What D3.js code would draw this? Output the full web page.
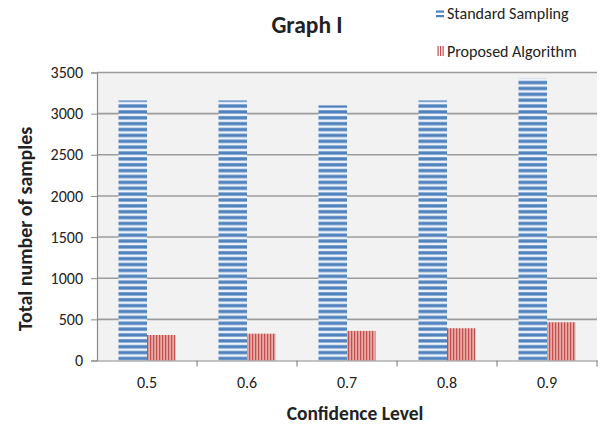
<!DOCTYPE html>
<html><head><meta charset="utf-8">
<script src="https://cdn.jsdelivr.net/npm/d3@7"></script>
<style>body{margin:0;background:#fff}svg{display:block}</style>
</head><body>
<svg id="chart" width="600" height="431"></svg>
<script>
const categories = ["0.5","0.6","0.7","0.8","0.9"];
const seriesNames = ["Standard Sampling","Proposed Algorithm"];
const standardSampling = [3160, 3160, 3100, 3160, 3425];
const proposedAlgorithm = [310, 326, 360, 392, 465];
const yTicks = [0,500,1000,1500,2000,2500,3000,3500];

const FONT = "Carlito, Lato, 'Open Sans', sans-serif";
const svg = d3.select("#chart");
const defs = svg.append("defs");
const pb = defs.append("pattern").attr("id","pBlue").attr("patternUnits","userSpaceOnUse")
  .attr("width",8).attr("height",5.87).attr("y",360.5);
pb.append("rect").attr("width",8).attr("height",5.87).attr("fill","#eef3fa");
pb.append("rect").attr("y",2.2).attr("width",8).attr("height",3.3).attr("fill","#4f81bd");
const pr = defs.append("pattern").attr("id","pRed").attr("patternUnits","userSpaceOnUse")
  .attr("width",3).attr("height",8);
pr.append("rect").attr("width",3).attr("height",8).attr("fill","#eaa8a6");
pr.append("rect").attr("x",0).attr("width",1.2).attr("height",8).attr("fill","#c0504d");

const L = 97, R = 597, T = 72.5, B = 360.5;
const x0 = d3.scaleBand().domain(categories).range([L,R]).padding(0);
const x1 = d3.scaleBand().domain(seriesNames).range([0,x0.bandwidth()]).paddingInner(0).paddingOuter(0.754);
const y = d3.scaleLinear().domain([0,3500]).range([B,T]);

svg.append("rect").attr("x",L).attr("y",T).attr("width",R-L).attr("height",B-T).attr("fill","#f2f2f2");

svg.append("g").selectAll("line").data(yTicks.filter(d=>d>0)).join("line")
  .attr("x1",L).attr("x2",R).attr("y1",d=>y(d)).attr("y2",d=>y(d))
  .attr("stroke","#9c9c9c").attr("stroke-width",1.6);

const data = categories.map((c,i)=>({c, vals:[standardSampling[i], proposedAlgorithm[i]]}));
const g = svg.append("g");
data.forEach(d=>{
  d.vals.forEach((v,j)=>{
    g.append("rect")
      .attr("x", x0(d.c)+x1(seriesNames[j]))
      .attr("y", y(v))
      .attr("width", x1.bandwidth())
      .attr("height", B - y(v))
      .attr("fill", j===0 ? "url(#pBlue)" : "url(#pRed)");
  });
});

const yAxis = d3.axisLeft(y).tickValues(yTicks).tickSize(6).tickPadding(8).tickFormat(d3.format("d"));
const ya = svg.append("g").attr("transform",`translate(${L},0)`).call(yAxis);
ya.select(".domain").attr("stroke","#8a8a8a").attr("stroke-width",1.2);
ya.selectAll(".tick line").attr("stroke","#8a8a8a");
ya.selectAll("text").attr("font-family",FONT).attr("font-size",16).attr("fill","#222");

const xAxis = d3.axisBottom(x0).tickSize(0).tickPadding(16);
const xa = svg.append("g").attr("transform",`translate(0,${B})`).call(xAxis);
xa.select(".domain").attr("stroke","#8a8a8a").attr("stroke-width",1.2);
xa.selectAll("text").attr("font-family",FONT).attr("font-size",16).attr("fill","#222");
xa.append("g").selectAll("line").data(categories).join("line")
  .attr("x1",(d,i)=>L+x0.step()*(i+1)).attr("x2",(d,i)=>L+x0.step()*(i+1))
  .attr("y1",0).attr("y2",6).attr("stroke","#8a8a8a").attr("stroke-width",1.2);

svg.append("text").attr("x",307).attr("y",32.5).attr("text-anchor","middle")
  .attr("font-family",FONT).attr("font-weight","bold").attr("font-size",23.5).attr("fill","#222").text("Graph I");

svg.append("text").attr("transform","translate(32,229) rotate(-90)").attr("text-anchor","middle")
  .attr("font-family",FONT).attr("font-weight","bold").attr("font-size",20).attr("fill","#222")
  .text("Total number of samples");
svg.append("text").attr("x",355).attr("y",420).attr("text-anchor","middle")
  .attr("font-family",FONT).attr("font-weight","bold").attr("font-size",19.5).attr("fill","#222")
  .text("Confidence Level");

const lg = svg.append("g");
lg.append("rect").attr("x",436).attr("y",10.5).attr("width",8).attr("height",2.2).attr("fill","#4f81bd");
lg.append("rect").attr("x",436).attr("y",15).attr("width",8).attr("height",2.2).attr("fill","#4f81bd");
[437.5,440,442.5].forEach(xx=>lg.append("rect").attr("x",xx).attr("y",46).attr("width",1.2).attr("height",10).attr("fill","#c0504d"));
lg.append("text").attr("x",447).attr("y",18.5).attr("font-family",FONT).attr("font-size",16).attr("fill","#222").text(seriesNames[0]);
lg.append("text").attr("x",447).attr("y",56.5).attr("font-family",FONT).attr("font-size",16).attr("fill","#222").text(seriesNames[1]);
</script>
</body></html>
